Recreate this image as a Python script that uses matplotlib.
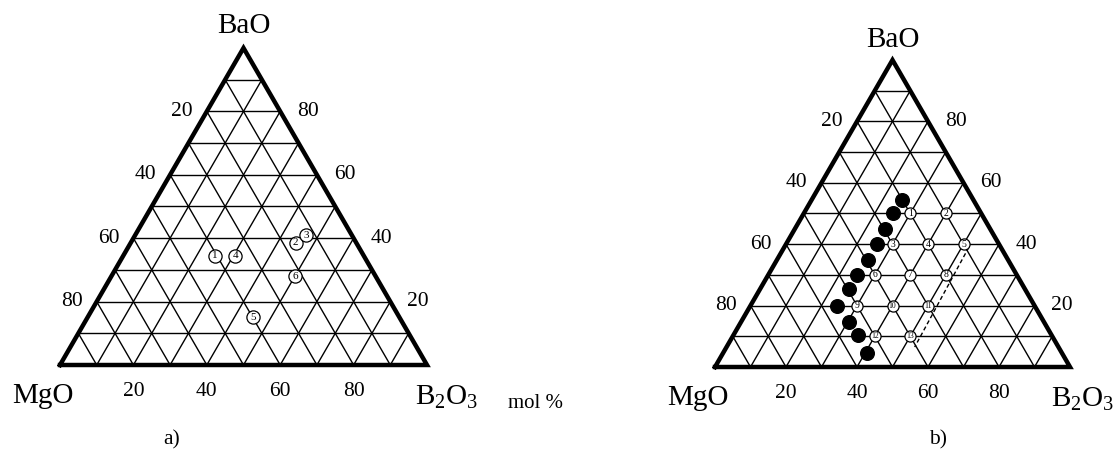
import numpy as np
import matplotlib
matplotlib.use("Agg")
import matplotlib.pyplot as plt

plt.rcParams['font.family'] = ['Liberation Serif', 'DejaVu Serif']
plt.rcParams['mathtext.fontset'] = 'custom'
plt.rcParams['mathtext.rm'] = 'Liberation Serif'
plt.rcParams['mathtext.it'] = 'Liberation Serif:italic'

# ---------------- data (mol %) ----------------
corner_labels = ['MgO', 'B$_2$O$_3$', 'BaO']
left_ticks = [20, 40, 60, 80]      # MgO values along left edge
right_ticks = [80, 60, 40, 20]     # BaO values along right edge
bottom_ticks = [20, 40, 60, 80]    # B2O3 values along base

# panel a) numbered compositions
a_labels = ['1', '2', '3', '4', '5', '6']
a_bao = [34.5, 38.5, 41, 34.5, 15, 28]
a_b2o3 = [25, 45, 46.5, 30.5, 45, 50]

# panel b) numbered compositions
b_labels = ['1', '2', '3', '4', '5', '6', '7', '8', '9', '10', '11', '12', '13']
b_bao = [50, 50, 40, 40, 40, 30, 30, 30, 20, 20, 20, 10, 10]
b_b2o3 = [30, 40, 30, 40, 50, 30, 40, 50, 30, 40, 50, 40, 50]

# panel b) filled black points
b_dot_bao = [54.5, 50, 45, 40, 35, 30, 25.5, 20, 14.5, 10.5, 4.5]
b_dot_b2o3 = [25.5, 25, 25.5, 25.5, 25.5, 25, 25, 24.5, 30.5, 35, 40.5]

# panel b) dashed boundary
b_dash_bao = [39, 6.5]
b_dash_b2o3 = [52, 53]

H = np.sqrt(3) / 2


def tern(bao, b2o3):
    bao = np.asarray(bao, float) / 100.0
    b2o3 = np.asarray(b2o3, float) / 100.0
    return b2o3 + bao / 2.0, bao * H


W_PX, H_PX = 1113, 453
fig = plt.figure(figsize=(W_PX / 100, H_PX / 100), dpi=100)


def make_axes(x0, xbase, ytop, ybase):
    # corners in pixel coordinates (from top-left)
    ax = fig.add_axes([x0 / W_PX, (H_PX - ybase) / H_PX,
                       (xbase - x0) / W_PX, (ybase - ytop) / H_PX])
    ax.set_xlim(0, 1)
    ax.set_ylim(0, H)
    ax.axis('off')
    return ax


def draw_triangle(ax, corner_offsets, tick_fs=15.5, lab_fs=21):
    # grid
    for k in range(1, 10):
        p = k * 10
        for (b1, c1), (b2, c2) in [((p, 0), (p, 100 - p)),
                                   ((0, p), (100 - p, p)),
                                   ((0, 100 - p), (100 - p, 0))]:
            xs, ys = tern([b1, b2], [c1, c2])
            ax.plot(xs, ys, color='black', lw=1.0, solid_capstyle='butt', zorder=1)
    # outline
    xs, ys = tern([0, 0, 100, 0], [0, 100, 0, 0])
    ax.plot(xs, ys, color='black', lw=3.2, solid_joinstyle='miter', zorder=3, clip_on=False)
    # ticks
    for v in left_ticks:
        x, y = tern(100 - v, 0)
        ax.annotate(str(v), (x, y), xytext=(-18, 0), textcoords='offset points',
                    ha='center', va='center', fontsize=tick_fs, annotation_clip=False)
    for v in right_ticks:
        x, y = tern(v, 100 - v)
        ax.annotate(str(v), (x, y), xytext=(20, 0), textcoords='offset points',
                    ha='center', va='center', fontsize=tick_fs, annotation_clip=False)
    for v in bottom_ticks:
        x, y = tern(0, v)
        ax.annotate(str(v), (x, y), xytext=(0, -19), textcoords='offset points',
                    ha='center', va='center', fontsize=tick_fs, annotation_clip=False)
    # corner labels
    corners = [tern(0, 0), tern(0, 100), tern(100, 0)]
    for lab, (x, y), off in zip(corner_labels, corners, corner_offsets):
        ax.annotate(lab, (x, y), xytext=off, textcoords='offset points',
                    ha='center', va='center', fontsize=lab_fs, annotation_clip=False)


def numbered(ax, bao, b2o3, labels, ms, fs):
    xs, ys = tern(bao, b2o3)
    ax.plot(xs, ys, 'o', ms=ms, mfc='white', mec='black', mew=0.9, ls='none', zorder=5)
    for x, y, t in zip(xs, ys, labels):
        ax.text(x, y, t, ha='center', va='center', fontsize=fs if len(t) == 1 else fs * 0.8,
                zorder=6)


# ---------- panel a ----------
axa = make_axes(60, 427, 48, 365)
draw_triangle(axa, [(-12, -22), (14, -23), (0, 16)])
numbered(axa, a_bao, a_b2o3, a_labels, ms=9.5, fs=8)

# ---------- panel b ----------
axb = make_axes(715, 1070, 60, 367)
draw_triangle(axb, [(-12, -22), (9, -23), (0, 14.5)])
xs, ys = tern(b_dash_bao, b_dash_b2o3)
axb.plot(xs, ys, color='black', lw=1.0, ls=(0, (3, 2)), zorder=4)
xs, ys = tern(b_dot_bao, b_dot_b2o3)
axb.plot(xs, ys, 'o', ms=9.8, color='black', ls='none', zorder=5)
numbered(axb, b_bao, b_b2o3, b_labels, ms=8, fs=7)

# ---------- free text ----------
fig.text(508 / W_PX, 1 - 404 / H_PX, 'mol %', ha='left', va='center', fontsize=15)
fig.text(172 / W_PX, 1 - 440 / H_PX, 'a)', ha='center', va='center', fontsize=15.5)
fig.text(938 / W_PX, 1 - 440 / H_PX, 'b)', ha='center', va='center', fontsize=15.5)

fig.savefig('out.png', dpi=100, facecolor='white')
